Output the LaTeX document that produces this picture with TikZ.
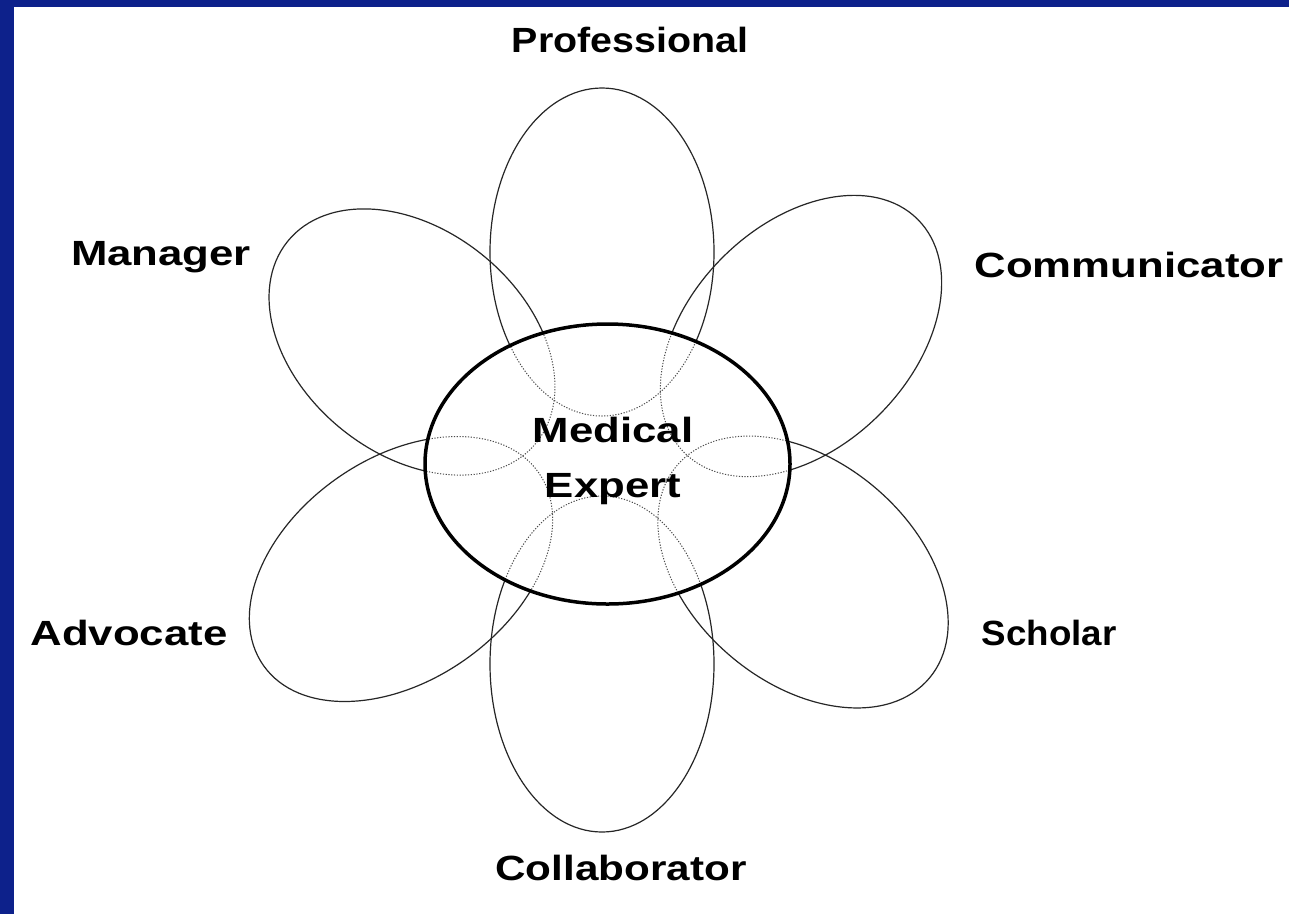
\documentclass[tikz,border=0pt]{standalone}
\usepackage{fontspec}
\setmainfont{Liberation Sans}
\newfontfamily\labfont[FakeStretch=1.25]{Liberation Sans}
\definecolor{frameblue}{RGB}{13,33,139}
\tikzset{
  lab/.style={font=\labfont\bfseries\fontsize{35}{42}\selectfont, inner sep=0pt, anchor=base},
  petalline/.style={line width=1.2pt, draw=black!85},
  petalinner/.style={line width=1pt, draw=black!70, dash pattern=on 1.2pt off 1.6pt},
  core/.style={line width=3.5pt, draw=black}
}
% #1,#2 centre, #3 angle of long axis, #4 half length, #5 half width
\newcommand\petal[6]{%
  \draw[#1, rotate around={#4:(#2,#3)}] (#2,#3) ellipse [x radius=#5pt, y radius=#6pt];}
\newcommand\allpetals[1]{%
  \petal{#1}{602}{252}{90}{164}{112}
  \petal{#1}{801}{336}{45}{165}{111}
  \petal{#1}{803}{572}{-40}{165}{111}
  \petal{#1}{602}{664}{90}{168}{112}
  \petal{#1}{401}{569}{215}{168}{111}
  \petal{#1}{412}{342}{141}{160}{112}
}
\begin{document}
\begin{tikzpicture}[x=1pt,y=-1pt]
\useasboundingbox (0,0) rectangle (1289,914);
\fill[white] (0,0) rectangle (1289,914);
\fill[frameblue] (0,0) rectangle (1289,7);
\fill[frameblue] (0,0) rectangle (14,914);
% petals, solid outside the core
\allpetals{petalline}
% core
\fill[white] (607.5,464) ellipse [x radius=182.5pt, y radius=140pt];
\begin{scope}
  \clip (607.5,464) ellipse [x radius=182.5pt, y radius=140pt];
  \allpetals{petalinner}
\end{scope}
\draw[core] (607.5,464) ellipse [x radius=182.5pt, y radius=140pt];
% texts
\node[lab] (med) at (613,442) {Medical};
\node[lab] (exp) at (613,497) {Expert};
\node[lab] (prof) at (630,52) {\scalebox{0.9}[1]{Professional}};
\node[lab] (comm) at (1129,277) {Communicator};
\node[lab] (man) at (161,265) {Manager};
\node[lab] (adv) at (129,645) {Advocate};
\node[lab] (sch) at (1049,645) {\scalebox{0.84}[1]{Scholar}};
\node[lab] (col) at (621,880) {\scalebox{0.965}[1]{Collaborator}};
\end{tikzpicture}
\end{document}
